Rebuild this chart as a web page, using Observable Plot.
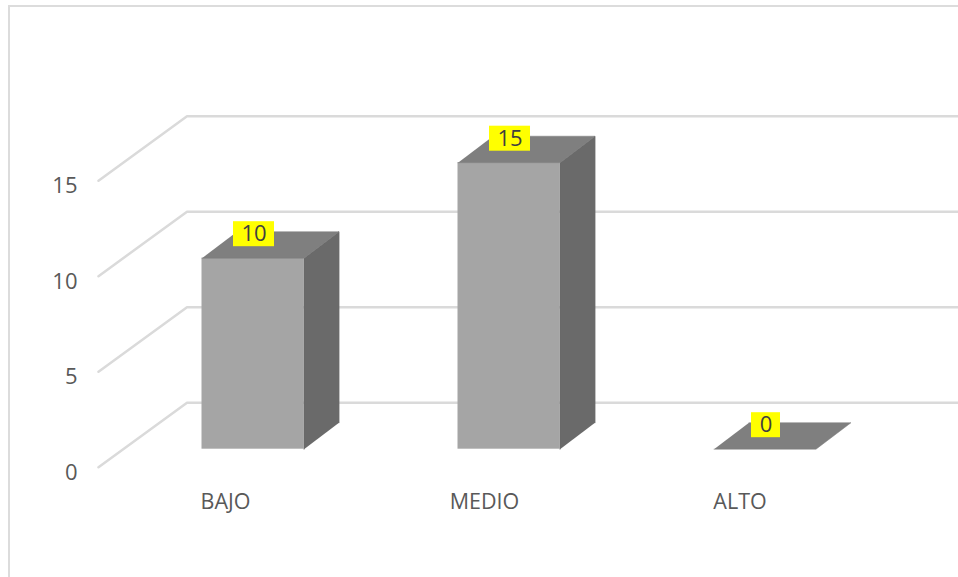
<!DOCTYPE html>
<html>
<head>
<meta charset="utf-8">
<script src="https://cdn.jsdelivr.net/npm/d3@7"></script>
<script src="https://cdn.jsdelivr.net/npm/@observablehq/plot@0.6"></script>
<style>
  html, body { margin: 0; padding: 0; background: #fff; overflow: hidden; }
  #chart { position: relative; width: 958px; height: 577px; }
  #chart svg { position: absolute; left: 0; top: 0; background: transparent; }
  #border { position: absolute; left: 8px; top: 5px; right: 0; bottom: 0;
            border-left: 2px solid #dcdcdc; border-top: 2px solid #dcdcdc; }
</style>
</head>
<body>
<div id="chart"><div id="border"></div></div>
<script>
// Data
const categories = ["BAJO", "MEDIO", "ALTO"];
const values = [10, 15, 0];
const yTicks = [0, 5, 10, 15];

// Layout: scale sizes and the oblique offsets of the 3-D look
const W = 958, H = 577;
const slotPx = 256, unitPx = 19.1;      // px per category slot, px per value unit
const zeroX = 252.5, zeroY = 448.7;     // where category 0 / value 0 fall
const px = n => n / slotPx, py = n => n / unitPx;
const halfBar = px(51), barDepthX = px(35), barDepthY = py(26.5);
const gridLeft = px(98 - zeroX), gridBack = px(186.5 - zeroX), gridRight = px(W - zeroX);
const floorFront = py(-18), floorBack = py(46.5);
const catLabelDx = [-27.5, -24.5, -25];

const bars = categories.map((name, i) => ({name, i, v: values[i]}));

// Polygon helper rows for the oblique faces
const poly = (id, pts) => pts.map(([x, y]) => ({id, x, y}));
const topFaces = bars.flatMap(b => poly(b.name, [
  [b.i - halfBar, b.v], [b.i + halfBar, b.v],
  [b.i + halfBar + barDepthX, b.v + barDepthY], [b.i - halfBar + barDepthX, b.v + barDepthY]
]));
const sideFaces = bars.filter(b => b.v > 0).flatMap(b => poly(b.name, [
  [b.i + halfBar, 0], [b.i + halfBar, b.v],
  [b.i + halfBar + barDepthX, b.v + barDepthY], [b.i + halfBar + barDepthX, barDepthY]
]));
const gridRows = yTicks.flatMap(t => poly(t, [
  [gridLeft, t + floorFront], [gridBack, t + floorBack], [gridRight, t + floorBack]
]));

const font = "'Open Sans', sans-serif";
const labelUp = py(24), boxHalfH = py(12.5);
const boxHalfW = b => px(String(b.v).length > 1 ? 20.5 : 14.5);
const labelX = b => b.i + px(1);

const chart = Plot.plot({
  width: W, height: H,
  margin: 0,
  style: {background: "transparent", fontFamily: font},
  x: {type: "linear", domain: [px(-zeroX), px(W - zeroX)], range: [0, W], axis: null},
  y: {type: "linear", domain: [py(zeroY - H), py(zeroY)], range: [H, 0], axis: null},
  marks: [
    Plot.line(gridRows, {x: "x", y: "y", z: "id", stroke: "#dadada", strokeWidth: 2.5, strokeLinejoin: "miter"}),
    // value-axis labels
    Plot.text(yTicks, {
      x: () => px(77 - zeroX), y: d => d + floorFront, text: d => String(d),
      textAnchor: "end", dy: 5.5, fontSize: 22, fill: "#595959"
    }),
    // bars: front, side and top faces
    Plot.rect(bars, {
      x1: b => b.i - halfBar, x2: b => b.i + halfBar, y1: 0, y2: "v",
      fill: "#a5a5a5"
    }),
    Plot.line(sideFaces, {x: "x", y: "y", z: "id", fill: "#6a6a6a", stroke: "#6a6a6a", strokeWidth: 0.8}),
    Plot.line(topFaces, {x: "x", y: "y", z: "id", fill: "#7f7f7f", stroke: "#7f7f7f", strokeWidth: 0.5}),
    // value labels on yellow boxes
    Plot.rect(bars, {
      x1: b => labelX(b) - boxHalfW(b), x2: b => labelX(b) + boxHalfW(b),
      y1: b => b.v + labelUp - boxHalfH, y2: b => b.v + labelUp + boxHalfH,
      fill: "#ffff00"
    }),
    Plot.text(bars, {
      x: labelX, y: b => b.v + labelUp, text: b => String(b.v),
      fontSize: 22, fill: "#404040"
    }),
    // category labels
    Plot.text(bars, {
      x: b => b.i + px(catLabelDx[b.i]), y: () => py(-53), text: "name",
      fontSize: 21.5, fill: "#595959"
    })
  ]
});
document.getElementById("chart").appendChild(chart);
</script>
</body>
</html>
